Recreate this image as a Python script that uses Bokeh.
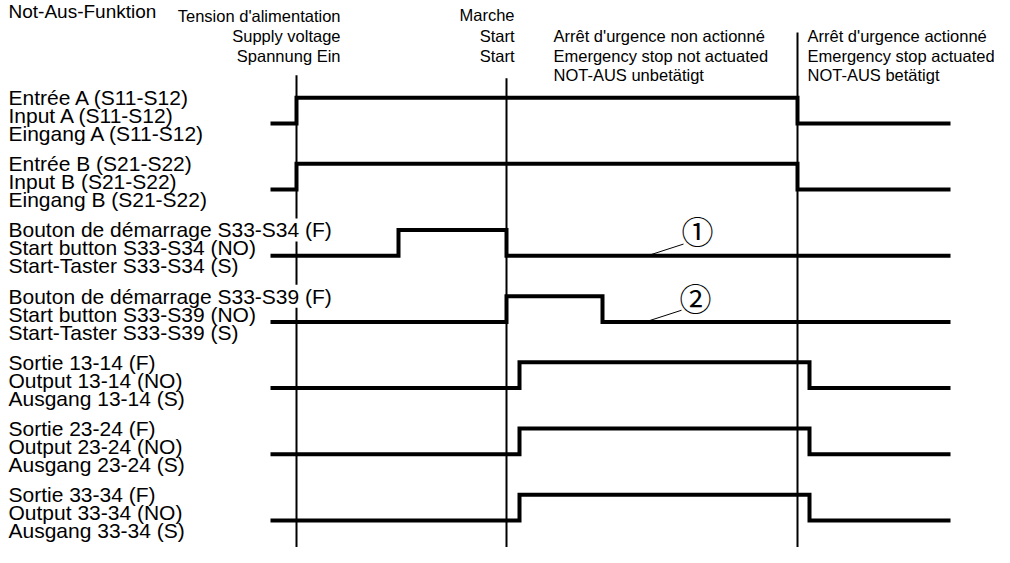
from bokeh.plotting import figure
from bokeh.models import Range1d
from bokeh.core.properties import value
from bokeh.embed import file_html
from bokeh.resources import INLINE

# ---- data ----
title = "Not-Aus-Funktion"
row_labels = [
    ["Entrée A (S11-S12)", "Input A (S11-S12)", "Eingang A (S11-S12)"],
    ["Entrée B (S21-S22)", "Input B (S21-S22)", "Eingang B (S21-S22)"],
    ["Bouton de démarrage S33-S34 (F)", "Start button S33-S34 (NO)", "Start-Taster S33-S34 (S)"],
    ["Bouton de démarrage S33-S39 (F)", "Start button S33-S39 (NO)", "Start-Taster S33-S39 (S)"],
    ["Sortie 13-14 (F)", "Output 13-14 (NO)", "Ausgang 13-14 (S)"],
    ["Sortie 23-24 (F)", "Output 23-24 (NO)", "Ausgang 23-24 (S)"],
    ["Sortie 33-34 (F)", "Output 33-34 (NO)", "Ausgang 33-34 (S)"],
]
# event times (time axis units)
t_begin, t_supply, t_button, t_start, t_s39_off, t_out_on, t_estop, t_out_off, t_end = (
    270, 296, 398, 506, 602, 519, 797, 809, 950)

sig_times = [
    [t_begin, t_supply, t_estop, t_end],
    [t_begin, t_supply, t_estop, t_end],
    [t_begin, t_button, t_start, t_end],
    [t_begin, t_start, t_s39_off, t_end],
    [t_begin, t_out_on, t_out_off, t_end],
    [t_begin, t_out_on, t_out_off, t_end],
    [t_begin, t_out_on, t_out_off, t_end],
]
sig_levels = [
    [0, 1, 0, 0],
    [0, 1, 0, 0],
    [0, 1, 0, 0],
    [0, 1, 0, 0],
    [0, 1, 0, 0],
    [0, 1, 0, 0],
    [0, 1, 0, 0],
]
event_lines = [t_supply, t_start, t_estop]
event_headers = [
    ["Tension d'alimentation", "Supply voltage", "Spannung Ein"],
    ["Marche", "Start", "Start"],
]
phase_headers = [
    ["Arrêt d'urgence non actionné", "Emergency stop not actuated", "NOT-AUS unbetätigt"],
    ["Arrêt d'urgence actionné", "Emergency stop actuated", "NOT-AUS betätigt"],
]
notes = ["①", "②"]
note_rows = [2, 3]

# ---- layout ----
W, H = 994, 547
p = figure(width=W, height=H, x_range=Range1d(0, W), y_range=Range1d(563, 0),
           output_backend="svg", toolbar_location=None, min_border=0)
p.axis.visible = False
p.grid.visible = False
p.outline_line_color = None
p.background_fill_color = "white"

row0, row_step, amp = 126.5, 68.1, 26.5
base = [row0 + i * row_step for i in range(len(row_labels))]

FONT = "Liberation Sans"

# event vertical lines
p.segment(x0=event_lines, x1=event_lines, y0=[77, 80, 33], y1=[563] * 3,
          line_color="black", line_width=2)

# signals
for i in range(len(row_labels)):
    ys = [base[i] - lv * amp for lv in sig_levels[i]]
    p.step(x=sig_times[i], y=ys, mode="after", line_color="black", line_width=4,
           line_join="miter", line_cap="butt")

# row labels (white backing so the event line is interrupted behind long labels)
offs = [-26.5, -8, 10.5]
for i, labs in enumerate(row_labels):
    p.text(x=[8], y=[base[i] + offs[0]], text=[labs[0]],
           text_font=value(FONT), text_font_size="21px", text_baseline="middle",
           text_align="left", text_color="black", background_fill_color="white")
    p.text(x=[8] * 2, y=[base[i] + o for o in offs[1:]], text=labs[1:],
           text_font=value(FONT), text_font_size="21px", text_baseline="middle",
           text_align="left", text_color="black")

# title
p.text(x=[8], y=[0], text=[title], text_font=value(FONT), text_font_size="19px",
       text_baseline="top", text_align="left", text_color="black")

# event headers (right aligned to event line)
HS = "16.5px"
p.text(x=[340] * 3, y=[16, 37, 57], text=event_headers[0], text_font=value(FONT),
       text_font_size=HS, text_baseline="middle", text_align="right")
p.text(x=[514] * 3, y=[15, 37, 57], text=event_headers[1], text_font=value(FONT),
       text_font_size=HS, text_baseline="middle", text_align="right")
# phase headers
p.text(x=[553] * 3, y=[37, 57, 77], text=phase_headers[0], text_font=value(FONT),
       text_font_size=HS, text_baseline="middle", text_align="left")
p.text(x=[807] * 3, y=[37, 57, 77], text=phase_headers[1], text_font=value(FONT),
       text_font_size=HS, text_baseline="middle", text_align="left")

# notes with leader lines
nx = [650, 648]
for k, r in enumerate(note_rows):
    y = base[r]
    p.segment(x0=[nx[k]], y0=[y - 1], x1=[nx[k] + 33], y1=[y - 12],
              line_color="black", line_width=1)
    p.text(x=[nx[k] + 47], y=[y - 26], text=[notes[k]], text_font=value("Noto Sans CJK JP"),
           text_font_size="32px", text_baseline="middle", text_align="center")

open("out.html", "w").write(file_html(p, INLINE))
